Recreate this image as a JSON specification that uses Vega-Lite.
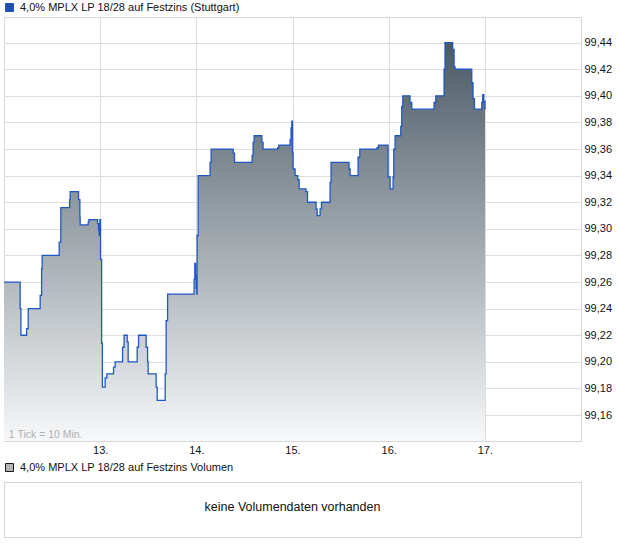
{
  "$schema": "https://vega.github.io/schema/vega-lite/v6.json",
  "background": "white",
  "padding": {"left": 3, "top": 2, "right": 0, "bottom": 0},
  "bounds": "flush",
  "spacing": 41,
  "config": {
    "font": "Liberation Sans",
    "view": {"stroke": "#d6d6d6", "strokeWidth": 1},
    "axis": {"gridColor": "#dddddd", "gridWidth": 1, "labelFont": "Liberation Sans", "labelFontSize": 11, "labelColor": "#111111", "domain": false, "ticks": false, "title": null, "labelOverlap": false},
    "legend": {"labelFont": "Liberation Sans", "labelFontSize": 11, "labelColor": "#111111", "padding": 0, "labelOffset": 5, "symbolSize": 64, "symbolType": "square", "title": null, "labelLimit": 600}
  },
  "datasets": {
    "kurs": [
      {"t": 12.000, "v": 99.260}, {"t": 12.168, "v": 99.240}, {"t": 12.176, "v": 99.220}, {"t": 12.235, "v": 99.225},
      {"t": 12.252, "v": 99.240}, {"t": 12.376, "v": 99.250}, {"t": 12.391, "v": 99.270}, {"t": 12.397, "v": 99.280},
      {"t": 12.574, "v": 99.290}, {"t": 12.591, "v": 99.316}, {"t": 12.682, "v": 99.322}, {"t": 12.688, "v": 99.328},
      {"t": 12.775, "v": 99.322}, {"t": 12.789, "v": 99.309}, {"t": 12.792, "v": 99.303}, {"t": 12.875, "v": 99.305},
      {"t": 12.883, "v": 99.307}, {"t": 12.973, "v": 99.304}, {"t": 12.983, "v": 99.299}, {"t": 12.990, "v": 99.295},
      {"t": 12.997, "v": 99.307}, {"t": 13.004, "v": 99.277}, {"t": 13.015, "v": 99.214}, {"t": 13.023, "v": 99.181},
      {"t": 13.052, "v": 99.188}, {"t": 13.070, "v": 99.191}, {"t": 13.139, "v": 99.196}, {"t": 13.156, "v": 99.200},
      {"t": 13.233, "v": 99.211}, {"t": 13.249, "v": 99.220}, {"t": 13.281, "v": 99.215}, {"t": 13.291, "v": 99.200},
      {"t": 13.385, "v": 99.211}, {"t": 13.399, "v": 99.220}, {"t": 13.478, "v": 99.211}, {"t": 13.493, "v": 99.200},
      {"t": 13.499, "v": 99.191}, {"t": 13.582, "v": 99.181}, {"t": 13.593, "v": 99.171}, {"t": 13.676, "v": 99.191},
      {"t": 13.686, "v": 99.231}, {"t": 13.701, "v": 99.251}, {"t": 13.977, "v": 99.262}, {"t": 13.984, "v": 99.274},
      {"t": 13.992, "v": 99.265}, {"t": 13.998, "v": 99.255}, {"t": 14.005, "v": 99.251}, {"t": 14.008, "v": 99.295},
      {"t": 14.019, "v": 99.340}, {"t": 14.143, "v": 99.350}, {"t": 14.154, "v": 99.360}, {"t": 14.383, "v": 99.357},
      {"t": 14.397, "v": 99.350}, {"t": 14.580, "v": 99.355}, {"t": 14.590, "v": 99.365}, {"t": 14.601, "v": 99.370},
      {"t": 14.681, "v": 99.365}, {"t": 14.694, "v": 99.360}, {"t": 14.846, "v": 99.361}, {"t": 14.857, "v": 99.363},
      {"t": 14.975, "v": 99.367}, {"t": 14.985, "v": 99.376}, {"t": 14.993, "v": 99.381}, {"t": 15.000, "v": 99.357},
      {"t": 15.006, "v": 99.345}, {"t": 15.027, "v": 99.340}, {"t": 15.055, "v": 99.337}, {"t": 15.069, "v": 99.330},
      {"t": 15.140, "v": 99.328}, {"t": 15.156, "v": 99.320}, {"t": 15.245, "v": 99.315}, {"t": 15.256, "v": 99.310},
      {"t": 15.287, "v": 99.315}, {"t": 15.301, "v": 99.320}, {"t": 15.391, "v": 99.335}, {"t": 15.401, "v": 99.350},
      {"t": 15.588, "v": 99.345}, {"t": 15.599, "v": 99.340}, {"t": 15.682, "v": 99.354}, {"t": 15.700, "v": 99.360},
      {"t": 15.879, "v": 99.361}, {"t": 15.894, "v": 99.363}, {"t": 15.994, "v": 99.339}, {"t": 16.015, "v": 99.330},
      {"t": 16.046, "v": 99.339}, {"t": 16.053, "v": 99.360}, {"t": 16.067, "v": 99.370}, {"t": 16.126, "v": 99.377},
      {"t": 16.136, "v": 99.392}, {"t": 16.147, "v": 99.400}, {"t": 16.222, "v": 99.395}, {"t": 16.240, "v": 99.390},
      {"t": 16.472, "v": 99.395}, {"t": 16.490, "v": 99.400}, {"t": 16.576, "v": 99.420}, {"t": 16.586, "v": 99.440},
      {"t": 16.666, "v": 99.435}, {"t": 16.680, "v": 99.422}, {"t": 16.690, "v": 99.420}, {"t": 16.864, "v": 99.410},
      {"t": 16.877, "v": 99.398}, {"t": 16.892, "v": 99.390}, {"t": 16.968, "v": 99.395}, {"t": 16.978, "v": 99.401},
      {"t": 16.989, "v": 99.396}, {"t": 17.002, "v": 99.390}
    ],
    "hinweis": [{"msg": "1 Tick = 10 Min."}],
    "volumen": [{"msg": "keine Volumendaten vorhanden", "serie": "4,0% MPLX LP 18/28 auf Festzins Volumen"}]
  },
  "vconcat": [
    {
      "width": 577,
      "height": 424,
      "layer": [
        {
          "data": {"name": "kurs"},
          "mark": {"type": "area", "interpolate": "step-after", "clip": true,
            "color": {"gradient": "linear", "x1": 0, "y1": 0, "x2": 0, "y2": 1,
              "stops": [{"offset": 0, "color": "#4b5a65"}, {"offset": 1, "color": "#f7f8f9"}]}},
          "encoding": {
            "x": {"field": "t", "type": "quantitative",
              "scale": {"domain": [12, 18], "nice": false, "zero": false},
              "axis": {"values": [13, 14, 15, 16, 17], "tickCount": 10, "labelExpr": "datum.value + '.'", "labelPadding": 3, "grid": true}},
            "y": {"field": "v", "type": "quantitative",
              "scale": {"domain": [99.1405, 99.4593], "nice": false, "zero": false},
              "axis": {"orient": "right", "tickCount": 30, "values": [99.16, 99.18, 99.2, 99.22, 99.24, 99.26, 99.28, 99.3, 99.32, 99.34, 99.36, 99.38, 99.4, 99.42, 99.44],
                "labelExpr": "replace(format(datum.value, '.2f'), '.', ',')", "labelPadding": 3, "grid": true}},
            "y2": {"datum": 99.1405}
          }
        },
        {
          "data": {"name": "kurs"},
          "mark": {"type": "line", "interpolate": "step-after", "strokeWidth": 1.3, "clip": true},
          "encoding": {
            "x": {"field": "t", "type": "quantitative"},
            "y": {"field": "v", "type": "quantitative"},
            "stroke": {"datum": "4,0% MPLX LP 18/28 auf Festzins (Stuttgart)",
              "scale": {"domain": ["4,0% MPLX LP 18/28 auf Festzins (Stuttgart)"], "range": ["#1f57c3"]},
              "legend": {"orient": "none", "legendX": 0, "legendY": -15,
                "encode": {"symbols": {"update": {"fill": {"value": "#1f4fae"}, "stroke": {"value": "#1a1a1a"}, "strokeWidth": {"value": 1}, "opacity": {"value": 1}, "shape": {"value": "square"}, "size": {"value": 64}}}}}}
          }
        },
        {
          "data": {"name": "hinweis"},
          "mark": {"type": "text", "align": "left", "baseline": "bottom", "dy": -1, "fontSize": 10.5, "color": "#b0b0b0"},
          "encoding": {
            "x": {"datum": 12.05, "type": "quantitative"},
            "y": {"datum": 99.1405, "type": "quantitative"},
            "text": {"field": "msg"}
          }
        }
      ]
    },
    {
      "width": 577,
      "height": 55,
      "data": {"name": "volumen"},
      "layer": [
        {
          "mark": {"type": "text", "fontSize": 12.5, "color": "#111111", "align": "center", "baseline": "middle"},
          "encoding": {
            "x": {"datum": 0.5, "type": "quantitative", "scale": {"domain": [0, 1], "nice": false}, "axis": null},
            "y": {"datum": 0.54, "type": "quantitative", "scale": {"domain": [0, 1], "nice": false}, "axis": null},
            "text": {"field": "msg"}
          }
        },
        {
          "mark": {"type": "point", "shape": "square", "opacity": 0, "filled": true},
          "encoding": {
            "x": {"datum": 0.5, "type": "quantitative"},
            "y": {"datum": 0.5, "type": "quantitative"},
            "fill": {"field": "serie", "type": "nominal",
              "scale": {"range": ["#b4b4b4"]},
              "legend": {"orient": "none", "legendX": 0, "legendY": 445,
                "encode": {"symbols": {"update": {"fill": {"value": "#b4b4b4"}, "stroke": {"value": "#1a1a1a"}, "strokeWidth": {"value": 1}, "opacity": {"value": 1}, "shape": {"value": "square"}, "size": {"value": 64}}}}}}
          }
        }
      ]
    }
  ]
}
